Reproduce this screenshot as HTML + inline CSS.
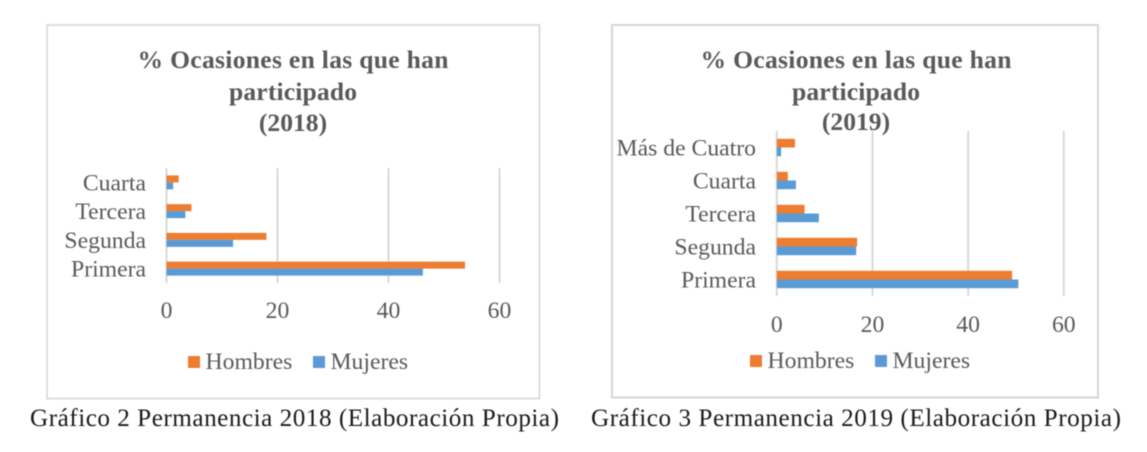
<!DOCTYPE html>
<html lang="es">
<head>
<meta charset="utf-8">
<title>Permanencia 2018 y 2019</title>
<style>
html,body{margin:0;padding:0;background:#fff;width:1147px;height:452px;overflow:hidden}
svg{display:block;filter:blur(0.4px)}
text{font-family:"Liberation Serif",serif}
.lbl{fill:#595959;font-size:23.7px}
.ttl{fill:#595959;font-size:25.6px;font-weight:bold;text-anchor:middle}
.cap{fill:#1a1a1a;font-size:25.2px}
</style>
</head>
<body>
<svg id="root" xmlns="http://www.w3.org/2000/svg" width="1147" height="452" viewBox="0 0 1147 452">
  <g id="chart-2018">
    <rect x="47" y="25" width="492.5" height="373.5" fill="#fff" stroke="#dcdcdc" stroke-width="2"/>
    <text class="ttl" x="293" y="68" textLength="311">% Ocasiones en las que han</text>
    <text class="ttl" x="293" y="100" textLength="128">participado</text>
    <text class="ttl" x="293" y="131">(2018)</text>
  </g>
  <g id="chart-2019">
    <rect x="612" y="25" width="486" height="372.5" fill="#fff" stroke="#d6d6d6" stroke-width="2"/>
    <text class="ttl" x="856" y="68" textLength="311">% Ocasiones en las que han</text>
    <text class="ttl" x="856" y="100" textLength="128">participado</text>
    <text class="ttl" x="856" y="130">(2019)</text>
  </g>
  <text class="cap" x="30" y="426" textLength="529">Gráfico 2 Permanencia 2018 (Elaboración Propia)</text>
  <text class="cap" x="591" y="426" textLength="530">Gráfico 3 Permanencia 2019 (Elaboración Propia)</text>
</svg>
<script>
var categories2018 = ['Primera', 'Segunda', 'Tercera', 'Cuarta'];
var hombres2018 = [53.8, 18, 4.5, 2.2];
var mujeres2018 = [46.2, 12, 3.4, 1.2];
var categories2019 = ['Primera', 'Segunda', 'Tercera', 'Cuarta', 'Más de Cuatro'];
var hombres2019 = [49.2, 16.8, 5.8, 2.3, 3.8];
var mujeres2019 = [50.5, 16.6, 8.8, 4, 0.9];
var xTicks = [0, 20, 40, 60];
var seriesNames = ['Hombres', 'Mujeres'];

var SVGNS = 'http://www.w3.org/2000/svg';
var ORANGE = '#ed7d31';
var BLUE = '#5b9bd5';

function makeNode(tag, parent, attrs) {
  var node = document.createElementNS(SVGNS, tag);
  Object.keys(attrs).forEach(function (k) { node.setAttribute(k, attrs[k]); });
  parent.appendChild(node);
  return node;
}

function drawChart(group, year, cats, hombres, mujeres, cfg) {
  function xScale(v) { return cfg.x0 + (v - xTicks[0]) * (cfg.x60 - cfg.x0) / (xTicks[xTicks.length - 1] - xTicks[0]); }
  var band = (cfg.bottom - cfg.top) / cats.length;
  function bandCenter(i) { return cfg.bottom - band * (i + 0.5); }

  xTicks.forEach(function (t) {
    var line = makeNode('line', group, { x1: xScale(t), x2: xScale(t), y1: cfg.top, y2: cfg.bottom, stroke: '#d9d9d9', 'stroke-width': 2 });
    
    
    var label = makeNode('text', group, { x: xScale(t), y: cfg.tickY, 'text-anchor': 'middle', 'class': 'lbl' });
    
    
    label.textContent = String(t);
  });

  cats.forEach(function (cat, i) {
    var c = bandCenter(i);
    var label = makeNode('text', group, { x: cfg.labelX, y: c + 8, 'text-anchor': 'end', 'class': 'lbl' });
    
    
    label.textContent = cat;

    var barH = makeNode('rect', group, { x: xScale(0), y: c - cfg.barH, width: xScale(hombres[i]) - xScale(0), height: cfg.barH, fill: ORANGE });
    
    

    var barM = makeNode('rect', group, { x: xScale(0), y: c, width: xScale(mujeres[i]) - xScale(0), height: cfg.barH, fill: BLUE });
    
    
  });

  var colors = [ORANGE, BLUE];
  seriesNames.forEach(function (name, i) {
    var swatch = makeNode('rect', group, { x: cfg.legendX[i], y: cfg.legendY - 12, width: 12, height: 12, fill: colors[i] });
    
    
    var text = makeNode('text', group, { x: cfg.legendX[i] + 17.5, y: cfg.legendY + 1, 'class': 'lbl' });
    
    
    text.textContent = name;
  });
}

drawChart(document.getElementById('chart-2018'), '2018', categories2018, hombres2018, mujeres2018, {
  x0: 166.5, x60: 499.5, top: 168, bottom: 283, tickY: 318, labelX: 146, barH: 7, legendX: [188, 313], legendY: 368
});
drawChart(document.getElementById('chart-2019'), '2019', categories2019, hombres2019, mujeres2019, {
  x0: 776.8, x60: 1063.8, top: 131, bottom: 296, tickY: 332, labelX: 756, barH: 8.7, legendX: [750, 875], legendY: 367
});
</script>
</body>
</html>
